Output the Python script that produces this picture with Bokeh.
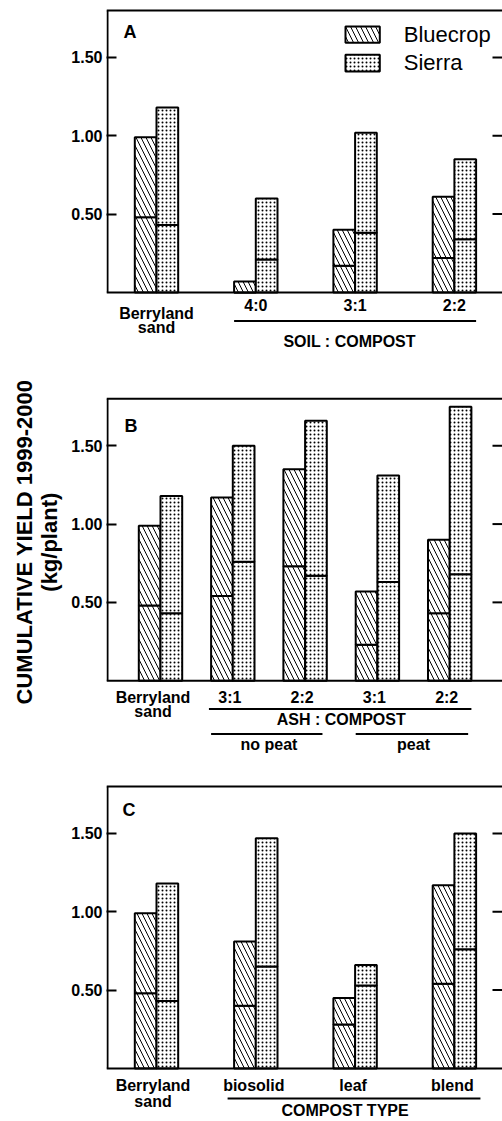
import math
from bokeh.plotting import figure
from bokeh.models import Range1d, LinearAxis, FixedTicker, NumeralTickFormatter
from bokeh.layouts import row, column
from bokeh.embed import file_html
from bokeh.resources import INLINE
from bokeh.core.properties import value

# ---------------- data ----------------
series_names = ["Bluecrop", "Sierra"]
y_ticks = [0.5, 1.0, 1.5]
y_title = "CUMULATIVE YIELD 1999-2000"
y_units = "(kg/plant)"

a_categories = ["Berryland sand", "4:0", "3:1", "2:2"]
a_bluecrop_1999 = [0.48, 0.00, 0.17, 0.22]
a_bluecrop_total = [0.99, 0.07, 0.40, 0.61]
a_sierra_1999 = [0.43, 0.21, 0.38, 0.34]
a_sierra_total = [1.18, 0.60, 1.02, 0.85]
a_group_label = "SOIL : COMPOST"

b_categories = ["Berryland sand", "3:1", "2:2", "3:1", "2:2"]
b_bluecrop_1999 = [0.48, 0.54, 0.73, 0.23, 0.43]
b_bluecrop_total = [0.99, 1.17, 1.35, 0.57, 0.90]
b_sierra_1999 = [0.43, 0.76, 0.67, 0.63, 0.68]
b_sierra_total = [1.18, 1.50, 1.66, 1.31, 1.75]
b_group_label = "ASH : COMPOST"
b_subgroups = ["no peat", "peat"]

c_categories = ["Berryland sand", "biosolid", "leaf", "blend"]
c_bluecrop_1999 = [0.48, 0.40, 0.28, 0.54]
c_bluecrop_total = [0.99, 0.81, 0.45, 1.17]
c_sierra_1999 = [0.43, 0.65, 0.53, 0.76]
c_sierra_total = [1.18, 1.47, 0.66, 1.50]
c_group_label = "COMPOST TYPE"

# ---------------- style / layout ----------------
FONT = "Liberation Sans"
S = 156.6          # px per y unit
YMAX = 1.8
BAR_PX = 21.7
TITLE_W = 64
W = 438
LEFT = 42
FRAME_LEFT = TITLE_W + LEFT
FRAME_W = W - LEFT
K = 0.37           # baseline compensation (fraction of font size)
BLUE_HATCH = dict(hatch_pattern="\\", hatch_scale=10, hatch_weight=1, hatch_color="black")
SIERRA_HATCH = dict(hatch_pattern=".", hatch_scale=4, hatch_weight=0.8, hatch_color="black")


def make_panel(letter, cats, b1, bt, s1, st, spacing, first_px, fig_h, top_pad, letter_dx, letter_off):
    x0 = -(first_px - FRAME_LEFT) / spacing
    x1 = x0 + FRAME_W / spacing
    ytop = YMAX + top_pad / S
    ybot = ytop - fig_h / S
    p = figure(width=W, height=fig_h, x_range=Range1d(x0, x1), y_range=Range1d(ybot, ytop),
               x_axis_location=None, y_axis_location=None, output_backend="svg",
               toolbar_location=None, min_border=0, min_border_left=LEFT, title=None,
               outline_line_color=None)
    p.grid.grid_line_color = None
    ax = LinearAxis(ticker=FixedTicker(ticks=y_ticks), formatter=NumeralTickFormatter(format="0.00"),
                    axis_line_color=None, major_tick_in=10, major_tick_out=0,
                    major_tick_line_width=2, minor_tick_line_color=None, major_label_standoff=4,
                    major_label_text_font=FONT, major_label_text_font_style="bold",
                    major_label_text_font_size="16px", major_label_text_color="black")
    p.add_layout(ax, "left")

    bw = BAR_PX / spacing
    idx = list(range(len(cats)))
    xb = [i - bw / 2 for i in idx]
    xs = [i + bw / 2 for i in idx]
    common = dict(width=bw, fill_color="white", line_color="black", line_width=2)
    p.vbar(x=xb, bottom=0, top=b1, **common, **BLUE_HATCH)
    p.vbar(x=xb, bottom=b1, top=bt, **common, **BLUE_HATCH)
    p.vbar(x=xs, bottom=0, top=s1, **common, **SIERRA_HATCH)
    p.vbar(x=xs, bottom=s1, top=st, **common, **SIERRA_HATCH)

    # frame lines
    lx = x0 + 1 / spacing
    p.segment(x0=[lx], y0=[0], x1=[lx], y1=[YMAX], line_width=2, line_color="black")
    p.segment(x0=[x0], y0=[YMAX], x1=[x1], y1=[YMAX], line_width=2, line_color="black")
    p.segment(x0=[x0], y0=[0], x1=[x1], y1=[0], line_width=2, line_color="black")
    p.segment(x0=[x1 - 10 / spacing] * len(y_ticks), y0=y_ticks, x1=[x1] * len(y_ticks), y1=y_ticks,
              line_width=2, line_color="black")

    p.text(x=[x0 + letter_dx / spacing], y=[YMAX - (letter_off - K * 18) / S], text=[letter],
           text_font=value(FONT), text_font_style="bold", text_font_size="18px",
           text_align="left", text_baseline="alphabetic", text_color="black")

    def txt(x, off, s, size=16, style="bold"):
        p.text(x=[x], y=[-(off - K * size) / S], text=[s], text_font=value(FONT), text_font_style=style,
               text_font_size=f"{size}px", text_align="center", text_baseline="alphabetic",
               text_color="black")

    def hline(xa, xb_, off):
        p.segment(x0=[xa], y0=[-off / S], x1=[xb_], y1=[-off / S], line_width=2, line_color="black")

    return p, bw, txt, hline, x0, spacing


# ---- Panel A ----
pA, bwA, txtA, hlineA, x0A, spA = make_panel("A", a_categories, a_bluecrop_1999, a_bluecrop_total,
                                             a_sierra_1999, a_sierra_total, 99.3, 156, 396, 10, 17, 28.3)
for i, c in enumerate(a_categories):
    if c == "Berryland sand":
        w1, w2 = c.split(" ")
        txtA(i, 27, w1)
        txtA(i, 41, w2)
    else:
        txtA(i, 19.4, c)
hlineA(1 - bwA, 3 + bwA, 28.7)
txtA(2 - 5.5 / spA, 55.4, a_group_label)

# legend (manual, panel A)
def px2x(px):
    return x0A + (px - FRAME_LEFT) / spA

pA.quad(left=[px2x(345)], right=[px2x(379.3)], top=[YMAX - 16 / S], bottom=[YMAX - 32.3 / S],
        fill_color="white", line_color="black", line_width=2, **BLUE_HATCH)
pA.quad(left=[px2x(345)], right=[px2x(379.3)], top=[YMAX - 44.3 / S], bottom=[YMAX - 61 / S],
        fill_color="white", line_color="black", line_width=2, **SIERRA_HATCH)
pA.text(x=[px2x(403.3)] * 2, y=[YMAX - (31.7 - K * 22) / S, YMAX - (60 - K * 22) / S], text=series_names,
        text_font=value(FONT), text_font_size="22px", text_align="left",
        text_baseline="alphabetic", text_color="black")

# ---- Panel B ----
pB, bwB, txtB, hlineB, x0B, spB = make_panel("B", b_categories, b_bluecrop_1999, b_bluecrop_total,
                                             b_sierra_1999, b_sierra_total, 72.3, 160, 388, 2.3, 18, 33.4)
for i, c in enumerate(b_categories):
    if c == "Berryland sand":
        w1, w2 = c.split(" ")
        txtB(i - 7.5 / spB, 22.3, w1)
        txtB(i - 7.5 / spB, 36.7, w2)
    else:
        txtB(i - 3 / spB, 22.3, c)
hlineB(1 - 1.1 * bwB, 4 + bwB, 28.3)
txtB(2.5, 45, b_group_label)
hlineB(1 - bwB, 2 + 0.8 * bwB, 53.3)
hlineB(3 - bwB, 4 + 0.85 * bwB, 53.3)
txtB(1.5, 70, b_subgroups[0])
txtB(3.5, 70, b_subgroups[1])

# ---- Panel C ----
pC, bwC, txtC, hlineC, x0C, spC = make_panel("C", c_categories, c_bluecrop_1999, c_bluecrop_total,
                                             c_sierra_1999, c_sierra_total, 99.3, 156, 337, 2, 16, 30)
for i, c in enumerate(c_categories):
    if c == "Berryland sand":
        w1, w2 = c.split(" ")
        txtC(i - 3.5 / spC, 23.2, w1)
        txtC(i - 3.5 / spC, 39, w2)
    else:
        txtC(i - 2 / spC, 23.2, c)
hlineC(1 - 1.3 * bwC, 3 + 1.2 * bwC, 30)
txtC(2 - 10 / spC, 48.5, c_group_label)

# ---- Y title ----
TH = 396 + 388 + 337
t = figure(width=TITLE_W, height=TH, x_range=Range1d(0, TITLE_W), y_range=Range1d(0, TH),
           x_axis_location=None, y_axis_location=None, output_backend="svg",
           toolbar_location=None, min_border=0, outline_line_color=None, title=None)
t.grid.grid_line_color = None
t.text(x=[31.7 - K * 22], y=[TH - 541.5], text=[y_title], angle=math.pi / 2,
       text_font=value(FONT), text_font_style="bold", text_font_size="22px",
       text_align="center", text_baseline="alphabetic", text_color="black")
t.text(x=[57.1 - K * 22], y=[TH - 541.7], text=[y_units], angle=math.pi / 2,
       text_font=value(FONT), text_font_style="bold", text_font_size="22px",
       text_align="center", text_baseline="alphabetic", text_color="black")

layout = row(t, column(pA, pB, pC))
open("out.html", "w").write(file_html(layout, INLINE))
